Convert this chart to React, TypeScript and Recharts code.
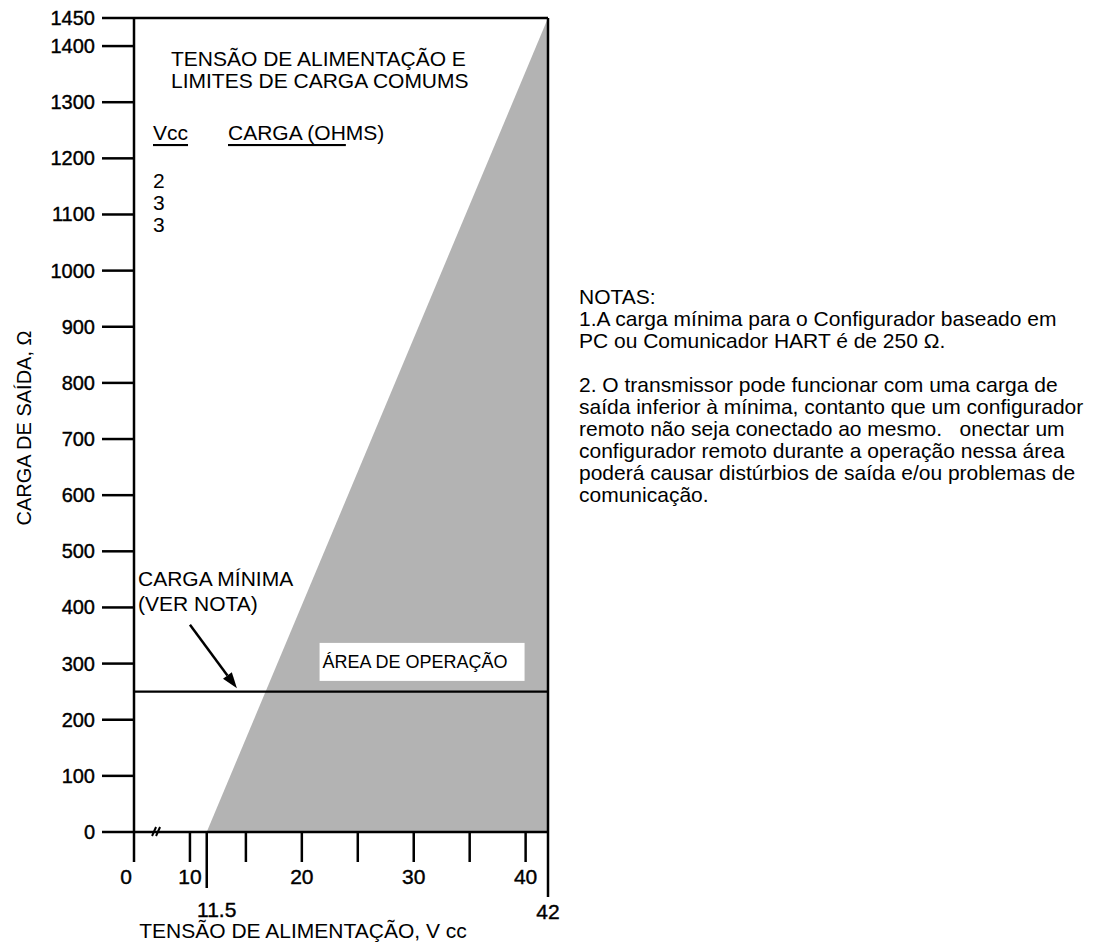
import React from 'react';
import {
  ComposedChart,
  Area,
  XAxis,
  YAxis,
  ReferenceLine,
  ReferenceDot,
  Label,
} from 'recharts';

// ---------------- data ----------------
const supplyVoltage = [11.5, 42]; // V cc (edge of operating area)
const maxLoadOhms = [0, 1450]; // Ω at those voltages
const minLoadOhms = 250; // minimum load (HART)
const xTickValues = [0, 10, 11.5, 15, 20, 25, 30, 35, 40, 42];
const xLabeledTicks = [0, 10, 20, 30, 40];
const xLongTicks = [11.5, 42];
const yTickValues = [0, 100, 200, 300, 400, 500, 600, 700, 800, 900, 1000, 1100, 1200, 1300, 1400, 1450];
const vccRows = ['2', '3', '3'];
const titleLines = ['TENSÃO DE ALIMENTAÇÃO E', 'LIMITES DE CARGA COMUMS'];
const notesLines = [
  'NOTAS:',
  '1.A carga mínima para o Configurador baseado em',
  'PC ou Comunicador HART é de 250 Ω.',
  '',
  '2. O transmissor pode funcionar com uma carga de',
  'saída inferior à mínima, contanto que um configurador',
  'remoto não seja conectado ao mesmo.   onectar um',
  'configurador remoto durante a operação nessa área',
  'poderá causar distúrbios de saída e/ou problemas de',
  'comunicação.',
];

// broken axis: the 0..10 V segment is drawn at half scale
const BREAK = 10;
const toAxis = (v: number) => (v < BREAK ? BREAK / 2 + v / 2 : v);
const fromAxis = (p: number) => (p < BREAK ? (p - BREAK / 2) * 2 : p);

const chartData = supplyVoltage.map((v, i) => ({ v: toAxis(v), load: maxLoadOhms[i] }));

const FONT = "'Liberation Sans', Arial, Helvetica, sans-serif";
const INK = '#000';

const XTick = (props: any) => {
  const { x, y, payload } = props;
  const real = Math.round(fromAxis(payload.value) * 10) / 10;
  const len = real === 42 ? 65 : real === 11.5 ? 56 : 30;
  let label: any = null;
  if (xLabeledTicks.includes(real)) {
    label = (
      <text x={x + (real === 0 ? -8 : 0)} y={y + 44} textAnchor="middle" dominantBaseline="central"
        fontFamily={FONT} fontSize={21} fill={INK} stroke={INK} strokeWidth={0.4}>{real}</text>
    );
  } else if (xLongTicks.includes(real)) {
    label = (
      <text x={x + (real === 11.5 ? 10 : 0)} y={y + (real === 42 ? 79 : 77)} textAnchor="middle"
        dominantBaseline="central" fontFamily={FONT} fontSize={21} fill={INK} stroke={INK}
        strokeWidth={0.4}>{real}</text>
    );
  }
  return (
    <g>
      <line x1={x} x2={x} y1={y} y2={y + len} stroke={INK} strokeWidth={2.5} />
      {label}
    </g>
  );
};

const YTick = (props: any) => {
  const { x, y, payload } = props;
  return (
    <g>
      <line x1={x - 32} x2={x} y1={y} y2={y} stroke={INK} strokeWidth={2.5} />
      <text x={x - 39} y={y} textAnchor="end" dominantBaseline="central" fontFamily={FONT}
        fontSize={20} fill={INK} stroke={INK} strokeWidth={0.4}>{payload.value}</text>
    </g>
  );
};

const TitleBlock = (props: any) => {
  const { cx, cy } = props;
  return (
    <g fontFamily={FONT} fontSize={21} fill={INK}>
      {titleLines.map((t, i) => (
        <text key={t} x={cx + 37} y={cy + 40 + i * 22} dominantBaseline="central">{t}</text>
      ))}
      <text x={cx + 19} y={cy + 114} dominantBaseline="central">
        <tspan style={{ textDecoration: 'underline' }}>Vcc</tspan>
      </text>
      <text x={cx + 94} y={cy + 114} dominantBaseline="central">
        <tspan style={{ textDecoration: 'underline' }}>CARGA (OH</tspan>
        <tspan>MS)</tspan>
      </text>
      {vccRows.map((r, i) => (
        <text key={i} x={cx + 19} y={cy + 162 + i * 22} dominantBaseline="central">{r}</text>
      ))}
    </g>
  );
};

const MinLoadLabel = (props: any) => {
  const { cx, cy } = props;
  return (
    <g fontFamily={FONT} fontSize={21} fill={INK}>
      <text x={cx} y={cy} dominantBaseline="central">CARGA MÍNIMA</text>
      <text x={cx} y={cy + 25} dominantBaseline="central">(VER NOTA)</text>
    </g>
  );
};

const AreaLabel = (props: any) => {
  const { cx, cy } = props;
  return (
    <g>
      <rect x={cx - 102} y={cy - 19} width={205} height={38} fill="#fff" />
      <text x={cx - 99} y={cy} dominantBaseline="central" fontFamily={FONT} fontSize={18} fill={INK}>
        ÁREA DE OPERAÇÃO
      </text>
    </g>
  );
};

const BreakMark = (props: any) => {
  const { cx, cy } = props;
  return (
    <g stroke={INK} strokeWidth={2}>
      <line x1={cx - 5} y1={cy + 4} x2={cx - 1} y2={cy - 5} />
      <line x1={cx - 1} y1={cy + 4} x2={cx + 3} y2={cy - 5} />
    </g>
  );
};

const Arrow = (props: any) => {
  const { x1, y1, x2, y2 } = props;
  const dx = x2 - x1;
  const dy = y2 - y1;
  const L = Math.sqrt(dx * dx + dy * dy);
  const ux = dx / L;
  const uy = dy / L;
  const head = 16;
  const half = 5.5;
  const bx = x2 - ux * head;
  const by = y2 - uy * head;
  const pts = `${x2},${y2} ${bx - uy * half},${by + ux * half} ${bx + uy * half},${by - ux * half}`;
  return (
    <g>
      <line x1={x1} y1={y1} x2={bx} y2={by} stroke={INK} strokeWidth={2.5} />
      <polygon points={pts} fill={INK} />
    </g>
  );
};

const YTitle = (props: any) => {
  const vb = props.viewBox || {};
  const x = (vb.x || 0) + 16;
  const y = (vb.y || 0) + 410;
  return (
    <text x={x} y={y} transform={`rotate(-90, ${x}, ${y})`} textAnchor="middle" dominantBaseline="central"
      fontFamily={FONT} fontSize={20} fill={INK}>CARGA DE SAÍDA, Ω</text>
  );
};

const XTitle = (props: any) => {
  const vb = props.viewBox || {};
  const x = (vb.x || 0) + 169;
  const y = (vb.y || 0) + 98;
  return (
    <text x={x} y={y} textAnchor="middle" dominantBaseline="central" fontFamily={FONT} fontSize={21}
      fill={INK}>TENSÃO DE ALIMENTAÇÃO, V cc</text>
  );
};

export default function App() {
  return (
    <div style={{ position: 'relative', width: 1077, height: 935, background: '#fff' }}>
      <ComposedChart
        width={1077}
        height={935}
        data={chartData}
        margin={{ top: 10, right: 537, bottom: 0, left: 0 }}
      >
        <XAxis
          dataKey="v"
          type="number"
          domain={[toAxis(0), 42]}
          ticks={xTickValues.map(toAxis)}
          interval={0}
          allowDataOverflow
          height={111}
          axisLine={{ stroke: INK, strokeWidth: 2.5 }}
          tickLine={false}
          tickSize={0}
          tickMargin={0}
          tick={<XTick />}
        >
          <Label content={<XTitle />} />
        </XAxis>
        <YAxis
          type="number"
          domain={[0, 1450]}
          ticks={yTickValues}
          interval={0}
          allowDataOverflow
          width={126}
          axisLine={{ stroke: INK, strokeWidth: 2.5 }}
          tickLine={false}
          tickSize={0}
          tickMargin={0}
          tick={<YTick />}
        >
          <Label content={<YTitle />} />
        </YAxis>
        <Area
          dataKey="load"
          type="linear"
          stroke="none"
          fill="#b3b3b3"
          fillOpacity={1}
          baseValue={0}
          isAnimationActive={false}
          dot={false}
          activeDot={false}
        />
        <ReferenceLine y={minLoadOhms} stroke={INK} strokeWidth={2.2} />
        <ReferenceLine y={1450} stroke={INK} strokeWidth={2.5} />
        <ReferenceLine x={42} stroke={INK} strokeWidth={2.5} />
        <ReferenceLine
          segment={[{ x: 10, y: 369 }, { x: 14.2, y: 256 }]}
          shape={<Arrow />}
        />
        <ReferenceDot x={toAxis(0)} y={1450} r={1} ifOverflow="visible" shape={<TitleBlock />} />
        <ReferenceDot x={5.36} y={452} r={1} ifOverflow="visible" shape={<MinLoadLabel />} />
        <ReferenceDot x={30.7} y={303} r={1} ifOverflow="visible" shape={<AreaLabel />} />
        <ReferenceDot x={7.06} y={0} r={1} ifOverflow="visible" shape={<BreakMark />} />
      </ComposedChart>
      <div
        style={{
          position: 'absolute',
          left: 571,
          top: 278,
          fontFamily: FONT,
          fontSize: 21,
          lineHeight: '22px',
          color: INK,
          whiteSpace: 'pre',
        }}
      >
        {notesLines.map((l, i) => (
          <div key={i} style={{ height: 22 }}>{l}</div>
        ))}
      </div>
    </div>
  );
}
